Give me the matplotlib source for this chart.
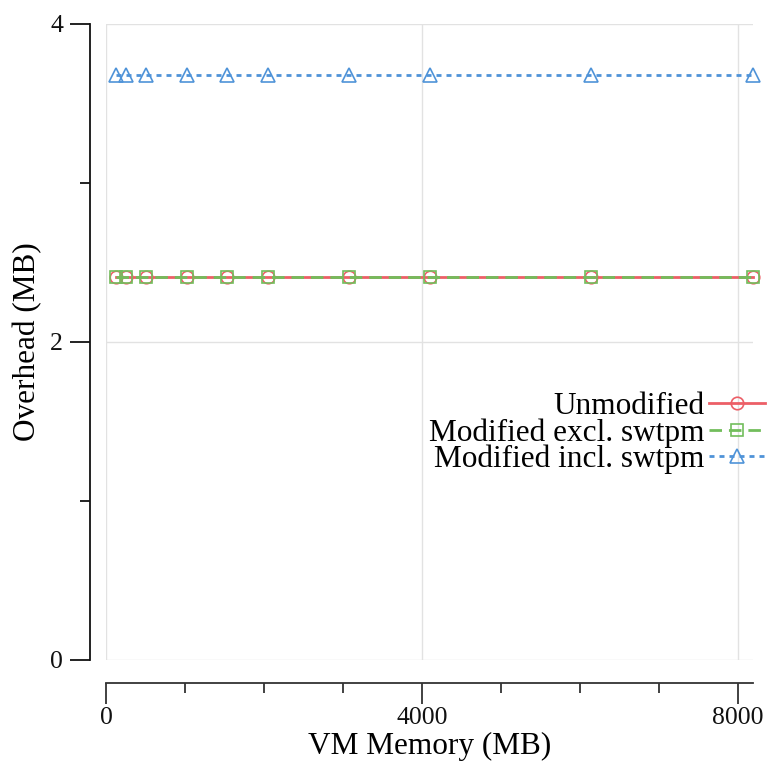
import matplotlib
matplotlib.use("Agg")
import matplotlib.pyplot as plt
from matplotlib.ticker import MultipleLocator

vm_memory = [128, 256, 512, 1024, 1536, 2048, 3072, 4096, 6144, 8192]
unmodified = [2.41, 2.41, 2.41, 2.41, 2.41, 2.41, 2.41, 2.41, 2.41, 2.41]
mod_excl = [2.41, 2.41, 2.41, 2.41, 2.41, 2.41, 2.41, 2.41, 2.41, 2.41]
mod_incl = [3.68, 3.68, 3.68, 3.68, 3.68, 3.68, 3.68, 3.68, 3.68, 3.68]
labels = ["Unmodified", "Modified excl. swtpm", "Modified incl. swtpm"]
x_ticks = [0, 4000, 8000]
y_ticks = [0, 2, 4]

plt.rcParams['font.family'] = ['Liberation Serif', 'DejaVu Serif']

W, H = 769, 765
fig = plt.figure(figsize=(W/100, H/100), dpi=100)
ax = fig.add_axes([106/W, 1-660/H, (753-106)/W, (660-24)/H])

red = '#ec5f67'
green = '#72bd5c'
blue = '#4f93d8'

ax.plot(vm_memory, unmodified, color=red, lw=2.0, ls='-', marker='o', ms=9,
        mfc='none', mec=red, mew=1.2, clip_on=False, label=labels[0], zorder=3)
ax.plot(vm_memory, mod_excl, color=green, lw=2.0, ls=(0, (4.5, 2.5)), marker='s', ms=9,
        mfc='none', mec=green, mew=1.2, clip_on=False, label=labels[1], zorder=4)
ax.plot(vm_memory, mod_incl, color=blue, lw=2.0, ls=(0, (1.8, 1.8)), marker='^', ms=10,
        mfc='none', mec=blue, mew=1.2, clip_on=False, label=labels[2], zorder=3)

ax.set_xlim(0, 8192)
ax.set_ylim(0, 4)
ax.set_xticks(x_ticks)
ax.set_yticks(y_ticks)
ax.xaxis.set_minor_locator(MultipleLocator(1000))
ax.yaxis.set_minor_locator(MultipleLocator(1))

ax.grid(True, which='major', color='#e2e2e2', lw=1.0, zorder=0)
ax.set_axisbelow(True)

for s in ['top', 'right']:
    ax.spines[s].set_visible(False)
ax.spines['left'].set_position(('outward', 11.5))
ax.spines['bottom'].set_position(('outward', 16.6))
ax.spines['left'].set_linewidth(1.3)
ax.spines['bottom'].set_linewidth(1.3)
ax.spines['bottom'].set_color('#333333')
ax.spines['left'].set_color('#111111')

ax.tick_params(axis='y', which='major', length=14.5, width=1.3, direction='out',
               labelsize=18.5, pad=5, colors='#111111')
ax.tick_params(axis='y', which='minor', length=7.2, width=1.3, direction='out', colors='#111111')
ax.tick_params(axis='x', which='major', length=15, width=1.3, direction='out',
               labelsize=18.5, pad=2, colors='#333333', labelcolor='#111111')
ax.tick_params(axis='x', which='minor', length=7.2, width=1.3, direction='out', colors='#333333')

ax.set_xlabel("VM Memory (MB)", fontsize=22.5, labelpad=2)
ax.set_ylabel("Overhead (MB)", fontsize=22.5, labelpad=6)

leg = ax.legend(loc='center right', bbox_to_anchor=(765/W, 1-433/H),
                bbox_transform=fig.transFigure, frameon=False, fontsize=22.5,
                markerfirst=False, handlelength=1.8, handletextpad=0.15,
                labelspacing=-0.09, borderpad=0, borderaxespad=0)

fig.savefig("out.png", dpi=100)
